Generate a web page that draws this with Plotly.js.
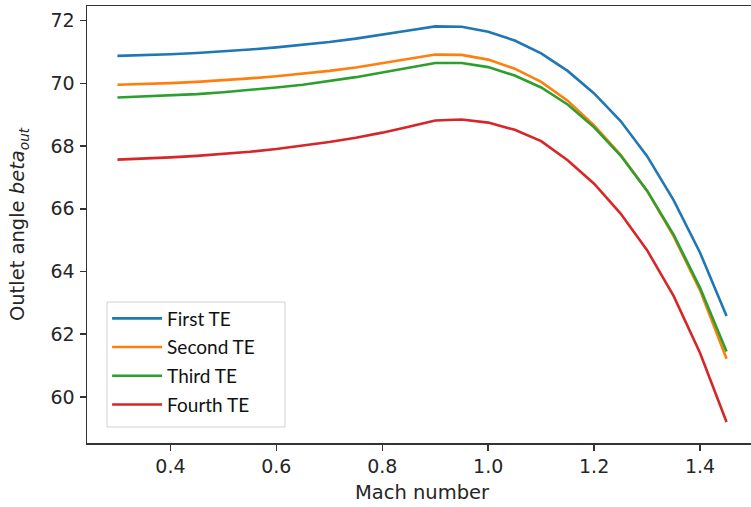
<!DOCTYPE html>
<html>
<head>
<meta charset="utf-8">
<script src="https://cdn.plot.ly/plotly-3.0.1.min.js"></script>
<style>
html, body { margin: 0; padding: 0; overflow: hidden; background: #fff; }
#chart { width: 760px; height: 507px; }
</style>
</head>
<body>
<div id="chart"></div>
<script>
const mach = [0.3, 0.35, 0.4, 0.45, 0.5, 0.55, 0.6, 0.65, 0.7, 0.75, 0.8, 0.85,
              0.9, 0.95, 1.0, 1.05, 1.1, 1.15, 1.2, 1.25, 1.3, 1.35, 1.4, 1.45];
const firstTE  = [70.88, 70.90, 70.93, 70.97, 71.02, 71.08, 71.15, 71.23, 71.32, 71.43, 71.55, 71.69,
                  71.82, 71.81, 71.65, 71.37, 70.96, 70.40, 69.68, 68.80, 67.68, 66.28, 64.60, 62.58];
const secondTE = [69.96, 69.98, 70.01, 70.05, 70.10, 70.16, 70.23, 70.31, 70.40, 70.51, 70.64, 70.78,
                  70.92, 70.91, 70.76, 70.47, 70.05, 69.45, 68.66, 67.72, 66.57, 65.13, 63.40, 61.22];
const thirdTE  = [69.55, 69.58, 69.62, 69.66, 69.72, 69.79, 69.87, 69.96, 70.07, 70.20, 70.35, 70.50,
                  70.65, 70.65, 70.52, 70.25, 69.87, 69.33, 68.60, 67.70, 66.58, 65.18, 63.48, 61.45];
const fourthTE = [67.57, 67.60, 67.64, 67.69, 67.75, 67.82, 67.91, 68.01, 68.13, 68.27, 68.43, 68.62,
                  68.82, 68.85, 68.75, 68.52, 68.16, 67.55, 66.80, 65.85, 64.68, 63.22, 61.40, 59.20];
const seriesNames = ["First TE", "Second TE", "Third TE", "Fourth TE"];
const seriesColors = ["#1f77b4", "#ff7f0e", "#2ca02c", "#d62728"];
const seriesData = [firstTE, secondTE, thirdTE, fourthTE];

const traces = seriesData.map((ys, i) => ({
  x: mach, y: ys, type: "scatter", mode: "lines",
  name: seriesNames[i], legendgroup: "g" + i,
  line: { color: seriesColors[i], width: 2.6 }
}));

const tickFont = { family: "DejaVu Sans", size: 19, color: "#262626" };
const titleFont = { family: "DejaVu Sans", size: 19.5, color: "#262626" };
const layout = {
  width: 760, height: 507,
  margin: { l: 87, r: 3, t: 6, b: 64 },
  paper_bgcolor: "#fff", plot_bgcolor: "#fff",
  showlegend: true,
  legend: {
    x: 0.03, y: 0.1865, xanchor: "left", yanchor: "middle",
    bgcolor: "rgba(0,0,0,0)", borderwidth: 0,
    font: { family: "Lato", size: 19, color: "#111" },
    tracegroupgap: 1, itemwidth: 50
  },
  shapes: [{
    type: "rect", xref: "paper", yref: "paper",
    x0: 0.0299, x1: 0.2955, y0: 0.0366, y1: 0.3227,
    fillcolor: "rgba(255,255,255,0.8)", line: { color: "#d0d0d0", width: 1 },
    layer: "above"
  }],
  xaxis: {
    range: [0.2425, 1.5075], tickvals: [0.4, 0.6, 0.8, 1.0, 1.2, 1.4],
    ticktext: ["0.4", "0.6", "0.8", "1.0", "1.2", "1.4"],
    ticks: "outside", ticklen: 6, tickwidth: 1.5, tickcolor: "#333",
    showline: true, linecolor: "#333", linewidth: 1.5, mirror: true,
    showgrid: false, zeroline: false, tickfont: tickFont,
    title: { text: "Mach number", font: titleFont, standoff: 9 },
    automargin: false
  },
  yaxis: {
    range: [58.53, 72.47], tickvals: [60, 62, 64, 66, 68, 70, 72],
    ticks: "outside", ticklen: 6, tickwidth: 1.5, tickcolor: "#333",
    showline: true, linecolor: "#333", linewidth: 1.5, mirror: true,
    showgrid: false, zeroline: false, tickfont: tickFont, ticklabelstandoff: 1,
    title: { text: "Outlet angle <i>beta<sub>out</sub></i>", font: titleFont, standoff: 20 },
    automargin: false
  }
};

Plotly.newPlot("chart", traces, layout, { displayModeBar: false, staticPlot: true });
</script>
</body>
</html>
